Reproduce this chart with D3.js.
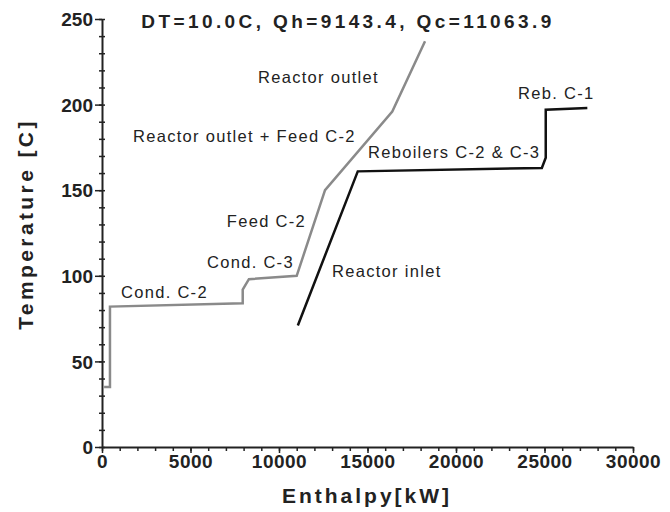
<!DOCTYPE html>
<head>
<meta charset="utf-8">
<script src="https://d3js.org/d3.v7.min.js"></script>
<style>
body { margin: 0; background: #fff; }
text { font-family: "Liberation Sans", Arial, sans-serif; }
</style>
</head>
<body>
<script>

// hot composite curve (grey) and cold composite curve (black), [enthalpy kW, temperature C]
var hotCurve = [[120, 35], [450, 35], [450, 82], [7950, 84], [7950, 92], [8300, 98],
                [11000, 100], [12600, 150], [16400, 196], [18250, 237]]
var coldCurve = [[11064, 71], [14450, 161], [24850, 163], [25070, 169], [25070, 197], [27420, 198]]

var xTicks = [0, 5000, 10000, 15000, 20000, 25000, 30000]
var yTicks = [0, 50, 100, 150, 200, 250]

// stream labels: text, enthalpy, temperature, anchor
var labels = [
    ["Reactor outlet", 8814, 212.6, "start"],
    ["Reactor outlet + Feed C-2", 1751, 178.2, "start"],
    ["Reboilers C-2 & C-3", 15028, 168.8, "start"],
    ["Reb. C-1", 23503, 203.3, "start"],
    ["Feed C-2", 11525, 128.5, "end"],
    ["Cond. C-3", 5932, 104.6, "start"],
    ["Reactor inlet", 12994, 99.3, "start"],
    ["Cond. C-2", 1073, 87, "start"]
]

var title = "DT=10.0C, Qh=9143.4, Qc=11063.9"

var width = 670, height = 512
var svg = d3.select("body").append("svg")
    .attr("width", width)
    .attr("height", height)

var x = d3.scaleLinear().domain([0, 30000]).range([102, 633])
var y = d3.scaleLinear().domain([0, 250]).range([447, 19])

// minor ticks
var xMinor = svg.append("g")
    .attr("transform", "translate(0," + y(0) + ")")
    .call(d3.axisBottom(x).ticks(30).tickSize(4).tickFormat(""))
xMinor.select(".domain").remove()

var yMinor = svg.append("g")
    .attr("transform", "translate(" + x(0) + ",0)")
    .call(d3.axisLeft(y).ticks(25).tickSize(3).tickFormat(""))
yMinor.select(".domain").remove()
yMinor.selectAll(".tick line").attr("x1", 3)

// major axes
var xAxis = svg.append("g")
    .attr("transform", "translate(0," + y(0) + ")")
    .call(d3.axisBottom(x).tickValues(xTicks).tickFormat(d3.format("d"))
        .tickSize(6).tickSizeOuter(0).tickPadding(2))
var yAxis = svg.append("g")
    .attr("transform", "translate(" + x(0) + ",0)")
    .call(d3.axisLeft(y).tickValues(yTicks).tickSize(7).tickSizeOuter(0).tickPadding(2))

svg.selectAll(".domain").attr("stroke", "#222").attr("stroke-width", 2)
svg.selectAll(".tick line").attr("stroke", "#222").attr("stroke-width", 1.5)

xAxis.selectAll("text")
    .style("font-size", "19px").style("font-weight", "bold").attr("fill", "#222")
    .style("letter-spacing", "0.5px")
yAxis.selectAll("text")
    .style("font-size", "19px").style("font-weight", "bold").attr("fill", "#222")
    .attr("dy", "0.35em")

// curves
var line = d3.line().x(d => x(d[0])).y(d => y(d[1]))

svg.append("path")
    .datum(hotCurve)
    .attr("d", line)
    .attr("fill", "none")
    .attr("stroke", "#8a8a8a")
    .attr("stroke-width", 2.5)

svg.append("path")
    .datum(coldCurve)
    .attr("d", line)
    .attr("fill", "none")
    .attr("stroke", "#111")
    .attr("stroke-width", 2.5)

// labels
svg.selectAll(".lab")
    .data(labels)
    .enter().append("text")
    .attr("class", "lab")
    .attr("x", d => x(d[1]))
    .attr("y", d => y(d[2]))
    .attr("text-anchor", d => d[3])
    .style("font-size", "16.5px")
    .style("letter-spacing", "1.3px")
    .attr("fill", "#222")
    .text(d => d[0])

// Title
svg.append("text")
    .attr("x", 348)
    .attr("y", 28)
    .attr("text-anchor", "middle")
    .style("font-size", "19px")
    .style("font-weight", "bold")
    .style("letter-spacing", "3.4px")
    .attr("fill", "#222")
    .text(title)

// axis titles
svg.append("text")
    .attr("x", 367)
    .attr("y", 503)
    .attr("text-anchor", "middle")
    .style("font-size", "21px")
    .style("font-weight", "bold")
    .style("letter-spacing", "3px")
    .attr("fill", "#222")
    .text("Enthalpy[kW]")

svg.append("text")
    .attr("transform", "translate(33,224) rotate(-90)")
    .attr("text-anchor", "middle")
    .style("font-size", "21px")
    .style("font-weight", "bold")
    .style("letter-spacing", "3.4px")
    .attr("fill", "#222")
    .text("Temperature [C]")

</script>
</body>
</html>
